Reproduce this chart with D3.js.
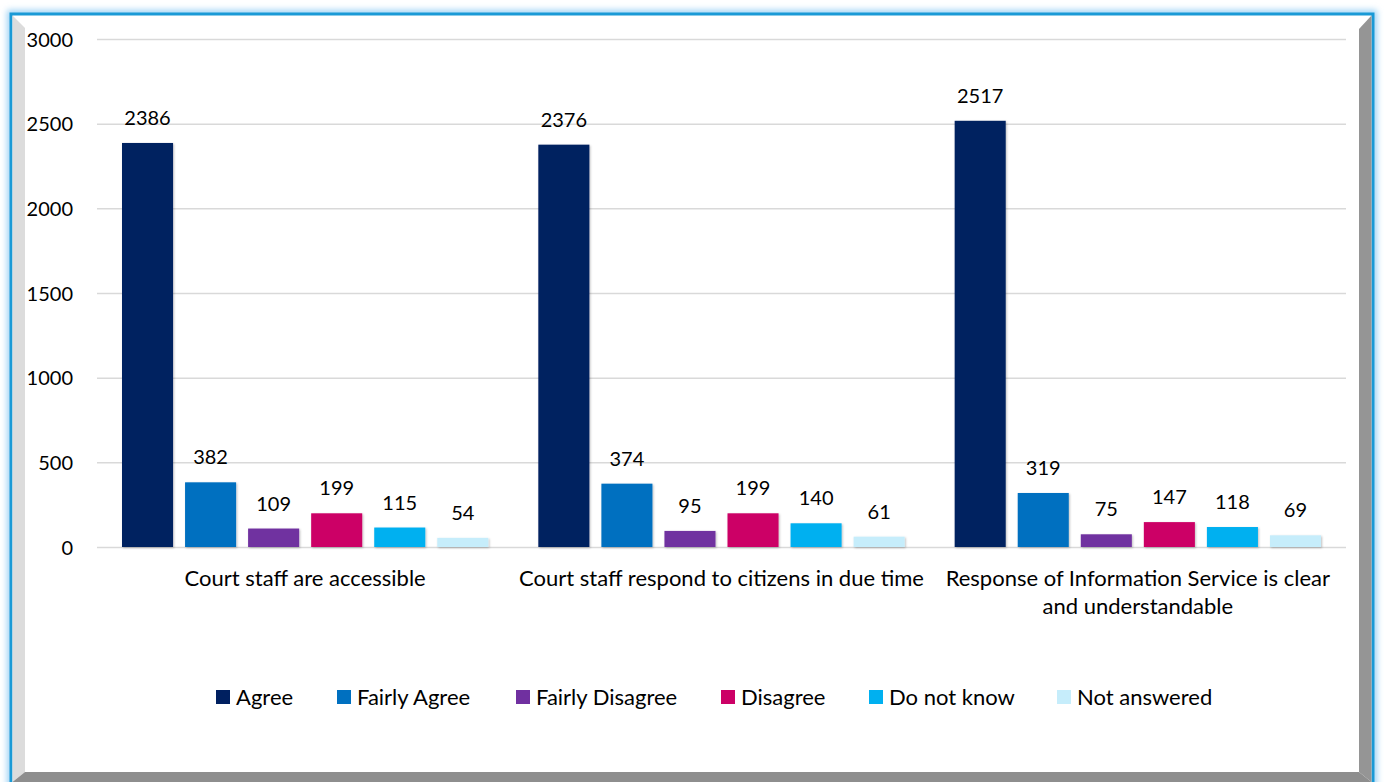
<!DOCTYPE html>
<html>
<head>
<meta charset="utf-8">
<script src="https://cdn.jsdelivr.net/npm/d3@7/dist/d3.min.js"></script>
<style>
  html, body { margin: 0; padding: 0; background: #ffffff; }
  svg { display: block; }
  text { font-family: Lato, "Open Sans", sans-serif; fill: #000; }
</style>
</head>
<body>
<svg id="chart" width="1384" height="782"></svg>
<script>
const categories = [
  "Court staff are accessible",
  "Court staff respond to citizens in due time",
  "Response of Information Service is clear and understandable"
];
const seriesNames = ["Agree", "Fairly Agree", "Fairly Disagree", "Disagree", "Do not know", "Not answered"];
const agree = [2386, 2376, 2517];
const fairlyAgree = [382, 374, 319];
const fairlyDisagree = [109, 95, 75];
const disagree = [199, 199, 147];
const doNotKnow = [115, 140, 118];
const notAnswered = [54, 61, 69];
const yTicks = [0, 500, 1000, 1500, 2000, 2500, 3000];
const colors = ["#002060", "#0070C0", "#7030A0", "#CC0066", "#00B0F0", "#C6EDFB"];

const seriesValues = [agree, fairlyAgree, fairlyDisagree, disagree, doNotKnow, notAnswered];

const svg = d3.select("#chart");
const W = 1384, H = 782;

// defs
const defs = svg.append("defs");
const glow = defs.append("filter").attr("id", "glow").attr("x", "-5%").attr("y", "-5%").attr("width", "110%").attr("height", "110%");
glow.append("feGaussianBlur").attr("stdDeviation", 3);
const shadow = defs.append("filter").attr("id", "shadow").attr("x", "-20%").attr("y", "-20%").attr("width", "150%").attr("height", "150%");
shadow.append("feDropShadow").attr("dx", 1).attr("dy", 1).attr("stdDeviation", 1).attr("flood-color", "#000").attr("flood-opacity", 0.25);

// Frame: glow + blue border
svg.append("rect").attr("x", 11).attr("y", 14).attr("width", 1362).attr("height", 800)
  .attr("fill", "none").attr("stroke", "#9fd3f5").attr("stroke-width", 8).attr("filter", "url(#glow)");
svg.append("rect").attr("x", 11).attr("y", 14).attr("width", 1362).attr("height", 800)
  .attr("fill", "#ffffff").attr("stroke", "#1a9ad6").attr("stroke-width", 3);

// Bevels
svg.append("polygon").attr("points", "12.5,15.5 25,28 25,772 12.5,782").attr("fill", "#dcdcdc");
svg.append("polygon").attr("points", "1371.5,15.5 1359,29 1359,772 1371.5,782").attr("fill", "#959595");
svg.append("polygon").attr("points", "12.5,782 25,772 1359,772 1371.5,782").attr("fill", "#8e8e8e");

// Plot area
const x0 = 97, x1 = 1346, yTop = 39, yBot = 547;
const y = d3.scaleLinear().domain([0, 3000]).range([yBot, yTop]);
const xBand = d3.scaleBand().domain(categories).range([x0, x1]).paddingInner(0).paddingOuter(0);
const xInner = d3.scaleBand().domain(seriesNames).range([25, xBand.bandwidth() - 25]).paddingInner(12 / 63).paddingOuter(0);

// gridlines
const yAxis = d3.axisLeft(y).tickValues(yTicks).tickSize(-(x1 - x0)).tickFormat(d3.format("d")).tickPadding(24);
const gAxis = svg.append("g").attr("transform", `translate(${x0},0)`).call(yAxis);
gAxis.select(".domain").remove();
gAxis.selectAll(".tick line").attr("stroke", "#d9d9d9").attr("stroke-width", 1.5);
gAxis.selectAll(".tick text").attr("font-size", 20).attr("font-family", "Lato, sans-serif").attr("fill", "#000").attr("dy", "0.35em");

// bars
const groups = svg.append("g").selectAll("g.cat").data(categories).join("g")
  .attr("class", "cat").attr("transform", d => `translate(${xBand(d)},0)`);

groups.each(function(cat, ci) {
  const g = d3.select(this);
  const rows = seriesNames.map((s, si) => ({ s, si, v: seriesValues[si][ci] }));
  g.selectAll("rect").data(rows).join("rect")
    .attr("x", d => xInner(d.s))
    .attr("y", d => y(d.v))
    .attr("width", xInner.bandwidth())
    .attr("height", d => yBot - y(d.v))
    .attr("fill", d => colors[d.si])
    .attr("filter", "url(#shadow)");
  g.selectAll("text.val").data(rows).join("text")
    .attr("class", "val")
    .attr("x", d => xInner(d.s) + xInner.bandwidth() / 2)
    .attr("y", d => y(d.v) - 18)
    .attr("text-anchor", "middle")
    .attr("font-size", 20)
    .text(d => d.v);
});

// category labels with wrapping
const labelSize = 22;
function wrapLines(text, maxW, fontSize) {
  const tmp = svg.append("text").attr("font-size", fontSize);
  const words = text.split(" ");
  const lines = [];
  let cur = "";
  words.forEach(w => {
    const t = cur ? cur + " " + w : w;
    tmp.text(t);
    if (tmp.node().getComputedTextLength() > maxW && cur) {
      lines.push(cur);
      cur = w;
    } else cur = t;
  });
  if (cur) lines.push(cur);
  tmp.remove();
  return lines;
}
categories.forEach(cat => {
  const lines = wrapLines(cat, xBand.bandwidth(), labelSize);
  const t = svg.append("text")
    .attr("x", xBand(cat) + xBand.bandwidth() / 2)
    .attr("y", 586)
    .attr("text-anchor", "middle")
    .attr("font-size", labelSize);
  lines.forEach((l, i) => {
    t.append("tspan").attr("x", xBand(cat) + xBand.bandwidth() / 2).attr("dy", i === 0 ? 0 : 28).text(l);
  });
});

// legend
const legendX = [216, 337, 516, 721, 869, 1057];
const legend = svg.append("g").selectAll("g").data(seriesNames).join("g")
  .attr("transform", (d, i) => `translate(${legendX[i]},690)`);
legend.append("rect").attr("width", 14).attr("height", 14).attr("fill", (d, i) => colors[i]);
legend.append("text").attr("x", 20).attr("y", 7).attr("dy", "0.35em").attr("font-size", labelSize).text(d => d);
</script>
</body>
</html>
